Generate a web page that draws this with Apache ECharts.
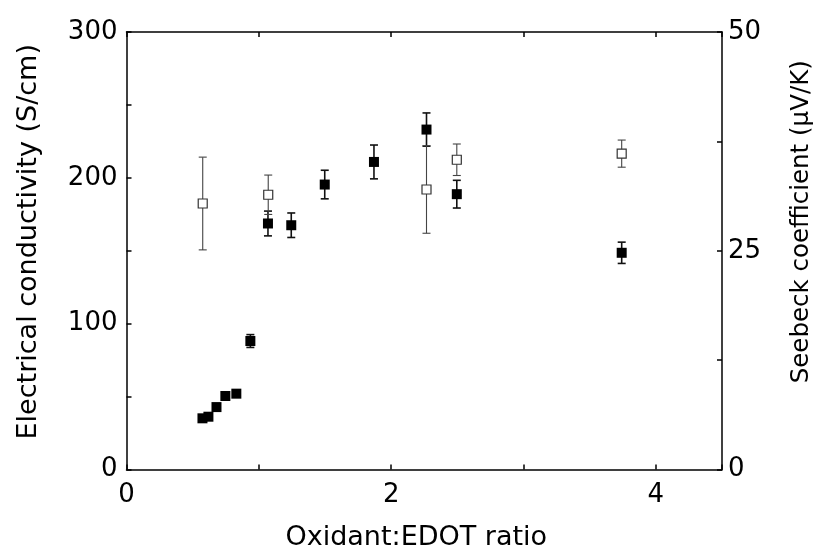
<!DOCTYPE html>
<html>
<head>
<meta charset="utf-8">
<script src="https://cdn.jsdelivr.net/npm/echarts@6/dist/echarts.min.js"></script>
<style>
  html, body { margin: 0; padding: 0; background: #fff; }
  #chart { width: 818px; height: 552px; }
</style>
</head>
<body>
<div id="chart"></div>
<script>
// conductivity (filled squares, left axis)
const ratioCond = [0.574, 0.619, 0.680, 0.747, 0.830, 0.936, 1.069, 1.245, 1.498, 1.870, 2.267, 2.496, 3.742];
const conductivity = [35.1, 36.2, 42.8, 50.4, 52.0, 88.1, 168.7, 167.5, 195.4, 210.9, 233.1, 188.8, 148.6];
const conductivityErr = [0, 0, 0, 0, 0, 4.4, 8.5, 8.4, 9.8, 11.6, 11.4, 9.5, 7.3];

// Seebeck coefficient (open squares, right axis)
const ratioSeebeck = [0.576, 1.071, 2.267, 2.496, 3.742];
const seebeck = [30.4, 31.4, 32.0, 35.4, 36.1];
const seebeckErr = [5.3, 2.25, 5.0, 1.8, 1.55];

const xTickLabels = ['0', '2', '4'];
const leftTickLabels = ['0', '100', '200', '300'];
const rightTickLabels = ['0', '25', '50'];

const FONT = 'DejaVu Sans';
const INK = '#000';

const chart = echarts.init(document.getElementById('chart'), null, { renderer: 'canvas' });

// error bar: vertical stroke + two caps
function errorBars(color, width) {
  return function (params, api) {
    const x = api.value(0), lo = api.value(1), hi = api.value(2);
    if (hi - lo <= 0) return null;
    const p0 = api.coord([x, lo]);
    const p1 = api.coord([x, hi]);
    const cap = 4;
    const style = { stroke: color, lineWidth: width };
    return {
      type: 'group',
      children: [
        { type: 'line', shape: { x1: p0[0], y1: p0[1], x2: p1[0], y2: p1[1] }, style },
        { type: 'line', shape: { x1: p0[0] - cap, y1: p0[1], x2: p0[0] + cap, y2: p0[1] }, style },
        { type: 'line', shape: { x1: p1[0] - cap, y1: p1[1], x2: p1[0] + cap, y2: p1[1] }, style },
      ],
    };
  };
}

const line = () => ({ onZero: false, lineStyle: { color: INK, width: 1.5 } });
const tick = () => ({ show: true, inside: true, length: 5, lineStyle: { color: INK, width: 1.5 } });
const labels = (keep, margin) => ({
  color: INK, fontFamily: FONT, fontSize: 26, margin: margin,
  formatter: v => keep.includes(String(v)) ? String(v) : '',
});
const nameStyle = (size, padding) => ({ color: INK, fontFamily: FONT, fontSize: size, padding: padding });

chart.setOption({
  backgroundColor: '#fff',
  animation: false,
  grid: { left: 126.5, right: 96, top: 32, bottom: 82.5, outerBoundsMode: 'none' },
  xAxis: [
    {
      type: 'value', min: 0, max: 4.5, interval: 1,
      name: 'Oxidant:EDOT ratio', nameLocation: 'middle', nameGap: 55,
      nameTextStyle: nameStyle(27, [0, 16, 0, 0]),
      axisLine: line(), axisTick: tick(), splitLine: { show: false },
      axisLabel: labels(xTickLabels, 13),
    },
    {
      type: 'value', position: 'top', min: 0, max: 4.5, interval: 1,
      axisLine: line(), axisTick: tick(), splitLine: { show: false }, axisLabel: { show: false },
    },
  ],
  yAxis: [
    {
      type: 'value', min: 0, max: 300, interval: 50,
      name: 'Electrical conductivity (S/cm)', nameLocation: 'middle', nameRotate: 90, nameGap: 84,
      nameTextStyle: nameStyle(27, [0, 0, 0, 18]),
      axisLine: line(), axisTick: tick(), splitLine: { show: false },
      axisLabel: labels(leftTickLabels, 9),
    },
    {
      type: 'value', position: 'right', min: 0, max: 50, interval: 12.5,
      name: 'Seebeck coefficient (\u03bcV/K)', nameLocation: 'middle', nameRotate: 90, nameGap: 67,
      nameTextStyle: nameStyle(24.5, [0, 0, 0, 58]),
      axisLine: line(), axisTick: tick(), splitLine: { show: false },
      axisLabel: labels(rightTickLabels, 6),
    },
  ],
  series: [
    {
      type: 'custom', z: 1, yAxisIndex: 0,
      renderItem: errorBars('#111', 1.6),
      data: ratioCond.map((x, i) => [x, conductivity[i] - conductivityErr[i], conductivity[i] + conductivityErr[i]]),
    },
    {
      type: 'custom', z: 1, yAxisIndex: 1,
      renderItem: errorBars('#444', 1.1),
      data: ratioSeebeck.map((x, i) => [x, seebeck[i] - seebeckErr[i], seebeck[i] + seebeckErr[i]]),
    },
    {
      type: 'scatter', z: 3, yAxisIndex: 1,
      symbol: 'rect', symbolSize: 9,
      itemStyle: { color: '#fff', borderColor: '#333', borderWidth: 1.2, opacity: 1 },
      data: ratioSeebeck.map((x, i) => [x, seebeck[i]]),
    },
    {
      type: 'scatter', z: 4, yAxisIndex: 0,
      symbol: 'rect', symbolSize: 10,
      itemStyle: { color: '#000', opacity: 1 },
      data: ratioCond.map((x, i) => [x, conductivity[i]]),
    },
  ],
});
</script>
</body>
</html>
